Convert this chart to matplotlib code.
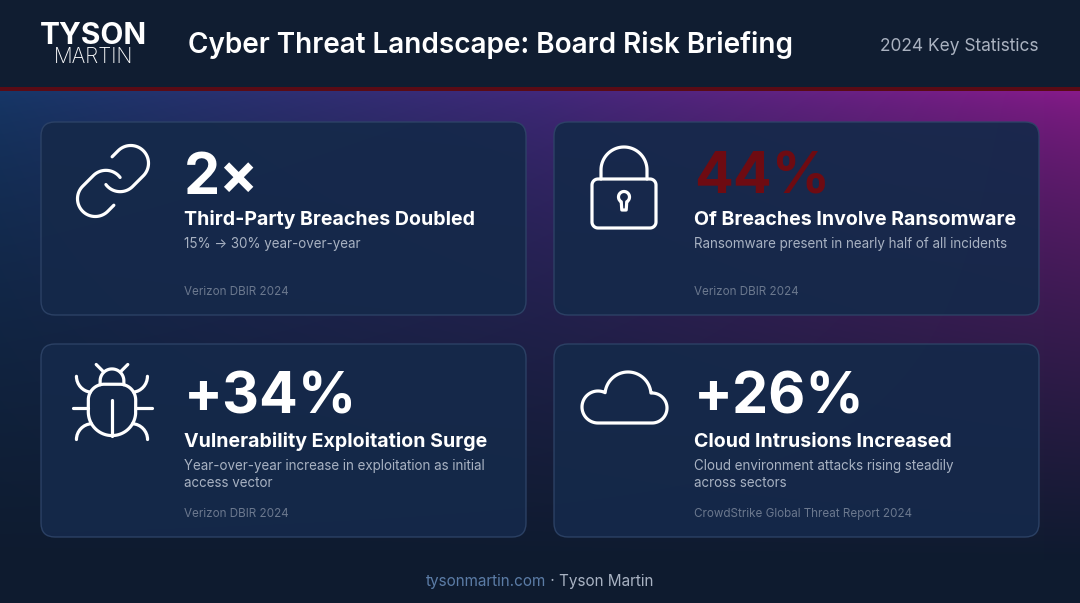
import numpy as np
import matplotlib
matplotlib.use("Agg")
import matplotlib.pyplot as plt
from matplotlib.patches import FancyBboxPatch, PathPatch
from matplotlib.path import Path
from matplotlib.colors import to_rgb

FONT = ["Inter", "DejaVu Sans"]
plt.rcParams["font.family"] = FONT

# ---------------- data ----------------
brand_top = "TYSON"
brand_bottom = "MARTIN"
header_title = "Cyber Threat Landscape: Board Risk Briefing"
header_sub = "2024 Key Statistics"
stat_values = ["2×", "44%", "+34%", "+26%"]
stat_titles = ["Third-Party Breaches Doubled",
               "Of Breaches Involve Ransomware",
               "Vulnerability Exploitation Surge",
               "Cloud Intrusions Increased"]
stat_descriptions = [["15% → 30% year-over-year"],
                     ["Ransomware present in nearly half of all incidents"],
                     ["Year-over-year increase in exploitation as initial", "access vector"],
                     ["Cloud environment attacks rising steadily", "across sectors"]]
stat_sources = ["Verizon DBIR 2024", "Verizon DBIR 2024",
                "Verizon DBIR 2024", "CrowdStrike Global Threat Report 2024"]
stat_icons = ["link", "lock", "bug", "cloud"]
stat_value_colors = ["#ffffff", "#6e0b12", "#ffffff", "#ffffff"]
footer_site = "tysonmartin.com"
footer_name = " · Tyson Martin"

# ---------------- canvas ----------------
W, H = 1080, 603
fig = plt.figure(figsize=(W / 100, H / 100), dpi=100)
ax = fig.add_axes([0, 0, 1, 1])
ax.set_xlim(0, W)
ax.set_ylim(H, 0)
ax.axis("off")

# background gradient
u = np.linspace(0, 1, W)[None, :, None]
v = np.arange(H)[:, None, None].astype(float)
c_left = np.array(to_rgb("#17386a"))
c_mid = np.array(to_rgb("#43297e"))
c_right = np.array(to_rgb("#8b1a8d"))
dark = np.array(to_rgb("#0e1b2f"))
top = np.where(u < 0.5, c_left + (c_mid - c_left) * (u * 2),
               c_mid + (c_right - c_mid) * ((u - 0.5) * 2))
t = np.clip((v - 90) / 470.0, 0, 1) ** 0.6
bg = top * (1 - t) + dark * t
bg[:88] = to_rgb("#101d31")
bg[87:91] = to_rgb("#5a0b15")
ax.imshow(bg, extent=(0, W, H, 0), aspect="auto", interpolation="bilinear", zorder=0)

# header
ax.text(93.5, 43.5, brand_top, color="white", fontsize=21.5, fontweight="bold",
        ha="center", va="baseline", zorder=5)
ax.text(93.5, 63, brand_bottom, color="white", fontsize=15, fontweight="light",
        ha="center", va="baseline", zorder=5)
ax.text(188, 53, header_title, color="white", fontsize=20.1, fontweight="semibold",
        ha="left", va="baseline", zorder=5)
ax.text(1039, 51, header_sub, color="#aab2c0", fontsize=12.5, ha="right",
        va="baseline", zorder=5)

# ---------------- icons ----------------
M, L, C4, CL = Path.MOVETO, Path.LINETO, Path.CURVE4, Path.CLOSEPOLY


def arc_pts(cx, cy, r, a0, a1, n=40):
    a = np.radians(np.linspace(a0, a1, n))
    return list(zip(cx + r * np.cos(a), cy - r * np.sin(a)))


def stroke(verts, codes, **kw):
    p = PathPatch(Path(verts, codes), fill=False, ec="white", lw=2.3,
                  capstyle="round", joinstyle="round", zorder=6, **kw)
    ax.add_patch(p)


def poly(points, closed=False):
    verts = list(points)
    codes = [M] + [L] * (len(verts) - 1)
    if closed:
        verts.append(verts[0])
        codes.append(CL)
    return verts, codes


def icon_link(cx, cy):
    s = 3.55
    f = lambda pts: [(cx + (x - 12) * s, cy + (y - 12) * s) for x, y in pts]
    p1 = arc_pts(14, 10, 5, 216.87, 315) + arc_pts(17, 7, 5, -45, 135) + [(11.75, 5.18)]
    p2 = arc_pts(10, 14, 5, 36.87, 135) + arc_pts(7, 17, 5, 135, 315) + [(12.24, 18.82)]
    for p in (p1, p2):
        stroke(*poly(f(p)))


def icon_bug(cx, cy):
    s = 3.95
    f = lambda pts: [(cx + (x - 12) * s, cy + (y - 11.5) * s) for x, y in pts]
    stroke(*poly(f([(8, 2), (9.88, 3.88)])))
    stroke(*poly(f([(14.12, 3.88), (16, 2)])))
    stroke(*poly(f([(9, 7.13), (9, 6.13)] + arc_pts(12, 6.13, 3, 180, 0) + [(15, 7.13)])))
    body = (arc_pts(12, 14, 6, 270, 180) + [(6, 11)] + arc_pts(10, 11, 4, 180, 90)
            + [(14, 7)] + arc_pts(14, 11, 4, 90, 0) + [(18, 14)] + arc_pts(12, 14, 6, 0, -90))
    stroke(*poly(f(body)))
    stroke(*poly(f([(12, 20), (12, 11)])))
    stroke(*poly(f([(6, 13), (2, 13)])))
    stroke(*poly(f([(22, 13), (18, 13)])))
    for curve in ([(6.53, 9), (4.6, 8.8), (3, 7.1), (3, 5)],
                  [(3, 21), (3, 18.9), (4.7, 17.1), (6.8, 17)],
                  [(20.97, 5), (20.97, 7.1), (19.37, 8.8), (17.47, 9)],
                  [(17.2, 17), (19.3, 17.1), (21, 18.9), (21, 21)]):
        stroke(f(curve), [M, C4, C4, C4])


def icon_lock(cx, cy):
    x0, x1, y0, y1, r = cx - 32, cx + 32, cy - 8, cy + 41, 6
    body = (arc_pts(x1 - r, y0 + r, r, 90, 0, 10) + arc_pts(x1 - r, y1 - r, r, 0, -90, 10)
            + arc_pts(x0 + r, y1 - r, r, 270, 180, 10) + arc_pts(x0 + r, y0 + r, r, 180, 90, 10))
    stroke(*poly(body, closed=True))
    sh = [(cx - 23, y0), (cx - 23, cy - 17)] + arc_pts(cx, cy - 17, 23, 180, 0) + [(cx + 23, y0)]
    stroke(*poly(sh))
    kh = arc_pts(cx, cy + 10, 5.5, -60, 240, 40) + [(cx - 2.2, cy + 23), (cx + 2.2, cy + 23)]
    stroke(*poly(kh, closed=True))


def circ_intersect(c1, r1, c2, r2):
    (x1, y1), (x2, y2) = c1, c2
    d = np.hypot(x2 - x1, y2 - y1)
    a = (r1 ** 2 - r2 ** 2 + d ** 2) / (2 * d)
    h = np.sqrt(max(r1 ** 2 - a ** 2, 0))
    xm, ym = x1 + a * (x2 - x1) / d, y1 + a * (y2 - y1) / d
    pa = (xm + h * (y2 - y1) / d, ym - h * (x2 - x1) / d)
    pb = (xm - h * (y2 - y1) / d, ym + h * (x2 - x1) / d)
    return pa if pa[1] < pb[1] else pb


def ang(c, p):
    return np.degrees(np.arctan2(-(p[1] - c[1]), p[0] - c[0]))


def icon_cloud(cx, cy):
    cl, rl = (cx - 27, cy + 9), 16
    cm, rm = (cx + 3, cy - 3), 23
    cr, rr = (cx + 27, cy + 10), 15
    p_lm = circ_intersect(cl, rl, cm, rm)
    p_mr = circ_intersect(cm, rm, cr, rr)
    a_l_end = ang(cl, p_lm) % 360
    a_m_start = ang(cm, p_lm) % 360
    a_m_end = ang(cm, p_mr)
    a_r_start = ang(cr, p_mr)
    bottom_y = cl[1] + rl
    pts = (arc_pts(cl[0], cl[1], rl, 270, a_l_end, 40)
           + arc_pts(cm[0], cm[1], rm, a_m_start, a_m_end, 60)
           + arc_pts(cr[0], cr[1], rr, a_r_start, -90, 40)
           + [(cr[0], bottom_y)])
    stroke(*poly(pts, closed=True))


icon_funcs = {"link": icon_link, "lock": icon_lock, "bug": icon_bug, "cloud": icon_cloud}
icon_offsets = {"link": (72, 59), "lock": (70, 65), "bug": (71, 58), "cloud": (71, 54)}

# ---------------- cards ----------------
card_x = [41, 554, 41, 554]
card_y = [122, 122, 344, 344]
text_x = [184, 694, 184, 694]
card_w, card_h = 485, 193

for i in range(4):
    x0, y0 = card_x[i], card_y[i]
    card = FancyBboxPatch((x0, y0), card_w, card_h,
                          boxstyle="round,pad=0,rounding_size=14",
                          fc=(*to_rgb("#15294a"), 0.93), ec=(*to_rgb("#2e4468"), 0.9),
                          lw=1.0, zorder=2)
    ax.add_patch(card)
    ox, oy = icon_offsets[stat_icons[i]]
    icon_funcs[stat_icons[i]](x0 + ox, y0 + oy)

    tx = text_x[i]
    two = len(stat_descriptions[i]) > 1
    base = -2 if two else 0
    ax.text(tx, y0 + 72 + base, stat_values[i], color=stat_value_colors[i],
            fontsize=41.3, fontweight="bold", ha="left", va="baseline", zorder=6)
    ax.text(tx, y0 + 103, stat_titles[i], color="white", fontsize=14.1,
            fontweight="bold", ha="left", va="baseline", zorder=6)
    for j, line in enumerate(stat_descriptions[i]):
        ax.text(tx, y0 + 126 + 17 * j, line, color="#a8b2c2", fontsize=9.65,
                ha="left", va="baseline", zorder=6)
    ax.text(tx, y0 + 173, stat_sources[i], color="#6b788e", fontsize=8.4,
            ha="left", va="baseline", zorder=6)

# ---------------- footer ----------------
t1 = ax.text(0, 586, footer_site, color="#5b7ca6", fontsize=11, ha="left",
             va="baseline", zorder=6)
t2 = ax.text(0, 586, footer_name, color="#a9b3c3", fontsize=11, ha="left",
             va="baseline", zorder=6)
fig.canvas.draw()
w1 = t1.get_window_extent().width
w2 = t2.get_window_extent().width
start = W / 2 - (w1 + w2) / 2
t1.set_x(start)
t2.set_x(start + w1)

fig.savefig("out.png", dpi=100)
